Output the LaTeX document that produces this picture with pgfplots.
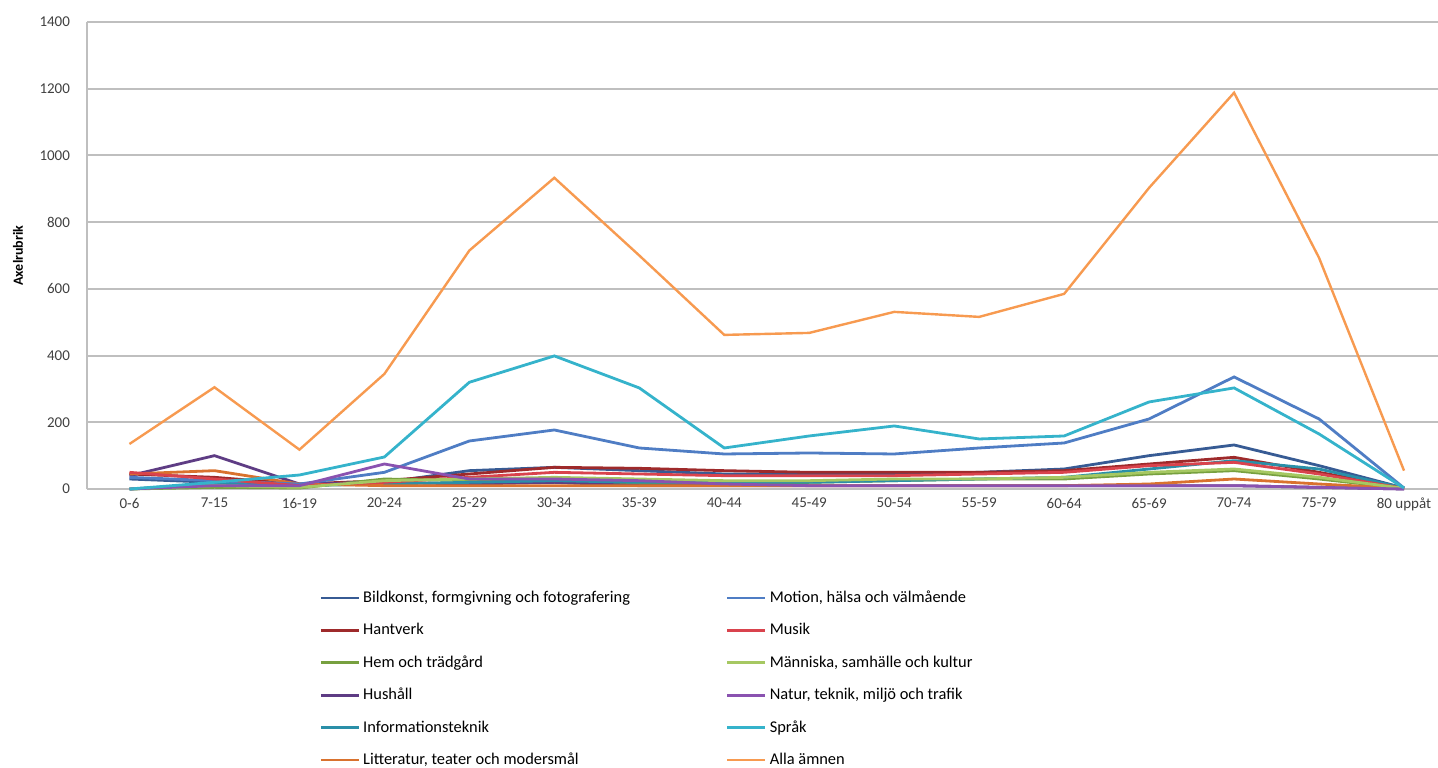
\documentclass[border=0pt]{standalone}
\usepackage{fontspec}
\setmainfont{Carlito}
\usepackage{pgfplots}
\pgfplotsset{compat=1.18}

\definecolor{cBild}{HTML}{375B94}
\definecolor{cHant}{HTML}{9E2A2B}
\definecolor{cHem}{HTML}{77A03F}
\definecolor{cHush}{HTML}{5E3C84}
\definecolor{cInfo}{HTML}{2A8FA8}
\definecolor{cLitt}{HTML}{D9722E}
\definecolor{cMot}{HTML}{4F7DC4}
\definecolor{cMus}{HTML}{D9434D}
\definecolor{cMann}{HTML}{A6C862}
\definecolor{cNat}{HTML}{8A52B0}
\definecolor{cSpr}{HTML}{35B3CB}
\definecolor{cAlla}{HTML}{F79A50}
\definecolor{gridgray}{HTML}{BFBFBF}
\definecolor{txtgray}{HTML}{404040}

\begin{document}
\begin{tikzpicture}
\begin{axis}[
    scale only axis,
    width=675.5pt, height=233.5pt,
    xmin=-0.5, xmax=15.4,
    ymin=0, ymax=1400,
    ytick={0,200,...,1400},
    xtick={0,...,15},
    xticklabels={0-6,7-15,16-19,20-24,25-29,30-34,35-39,40-44,45-49,50-54,55-59,60-64,65-69,70-74,75-79,80 uppåt},
    ymajorgrids=true,
    grid style={gridgray, line width=1pt},
    axis line style={gridgray, line width=0.8pt},
    axis x line*=bottom,
    axis y line*=left,
    major tick length=0pt,
    tick style={draw=none},
    /pgf/number format/assume math mode=true,
    /pgf/number format/1000 sep={},
    ticklabel style={font=\fontsize{7.5}{9}\selectfont, text=txtgray},
    yticklabel style={xshift=-5pt},
    xticklabel style={yshift=-1pt},
    ylabel={\textbf{Axelrubrik}},
    ylabel style={font=\fontsize{7}{8}\selectfont, at={(-34.5pt,116.75pt)}, anchor=center},
    every axis plot/.append style={line width=1.4pt, mark=none},
    legend columns=6,
    transpose legend,
    legend cell align=left,
    legend image code/.code={\draw[#1] (0pt,0pt) -- (19pt,0pt);},
    legend style={
        draw=none, fill=none, inner sep=0pt,
        at={(116pt,-49pt)}, anchor=north west,
        font=\fontsize{8.2}{9}\selectfont,
        nodes={inner sep=1.5pt, text height=6pt, text depth=1.5pt},
        row sep=5.7pt,
        /tikz/every even column/.append style={column sep=46.5pt},
    },
    clip=false,
]
\addplot[cBild] coordinates {(0,30)(1,20)(2,10)(3,20)(4,55)(5,65)(6,55)(7,45)(8,45)(9,45)(10,50)(11,60)(12,100)(13,132)(14,70)(15,3)};
\addlegendentry{Bildkonst, formgivning och fotografering}
\addplot[cHant] coordinates {(0,45)(1,35)(2,15)(3,25)(4,45)(5,65)(6,62)(7,55)(8,50)(9,50)(10,50)(11,55)(12,75)(13,95)(14,50)(15,3)};
\addlegendentry{Hantverk}
\addplot[cHem] coordinates {(0,0)(1,5)(2,3)(3,30)(4,25)(5,20)(6,15)(7,15)(8,20)(9,25)(10,30)(11,30)(12,45)(13,55)(14,30)(15,2)};
\addlegendentry{Hem och trädgård}
\addplot[cHush] coordinates {(0,40)(1,100)(2,15)(3,20)(4,15)(5,20)(6,10)(7,10)(8,10)(9,10)(10,10)(11,10)(12,10)(13,10)(14,5)(15,0)};
\addlegendentry{Hushåll}
\addplot[cInfo] coordinates {(0,0)(1,15)(2,10)(3,15)(4,20)(5,25)(6,20)(7,20)(8,20)(9,25)(10,30)(11,35)(12,60)(13,85)(14,60)(15,3)};
\addlegendentry{Informationsteknik}
\addplot[cLitt] coordinates {(0,45)(1,55)(2,15)(3,10)(4,10)(5,10)(6,10)(7,10)(8,10)(9,10)(10,10)(11,10)(12,15)(13,30)(14,15)(15,2)};
\addlegendentry{Litteratur, teater och modersmål}
\addplot[cMot] coordinates {(0,35)(1,25)(2,15)(3,50)(4,144)(5,177)(6,123)(7,105)(8,108)(9,105)(10,123)(11,138)(12,210)(13,336)(14,210)(15,3)};
\addlegendentry{Motion, hälsa och välmående}
\addplot[cMus] coordinates {(0,50)(1,30)(2,10)(3,20)(4,35)(5,50)(6,45)(7,40)(8,40)(9,40)(10,45)(11,50)(12,70)(13,80)(14,45)(15,2)};
\addlegendentry{Musik}
\addplot[cMann] coordinates {(0,0)(1,10)(2,5)(3,25)(4,30)(5,35)(6,30)(7,25)(8,25)(9,30)(10,30)(11,35)(12,50)(13,60)(14,35)(15,2)};
\addlegendentry{Människa, samhälle och kultur}
\addplot[cNat] coordinates {(0,0)(1,10)(2,10)(3,75)(4,30)(5,30)(6,25)(7,15)(8,10)(9,10)(10,10)(11,10)(12,10)(13,10)(14,5)(15,0)};
\addlegendentry{Natur, teknik, miljö och trafik}
\addplot[cSpr] coordinates {(0,0)(1,20)(2,42)(3,96)(4,320)(5,399)(6,303)(7,123)(8,159)(9,189)(10,150)(11,159)(12,261)(13,303)(14,165)(15,3)};
\addlegendentry{Språk}
\addplot[cAlla, line width=1.2pt] coordinates {(0,135)(1,305)(2,118)(3,345)(4,715)(5,933)(6,700)(7,462)(8,468)(9,531)(10,516)(11,585)(12,903)(13,1188)(14,693)(15,55)};
\addlegendentry{Alla ämnen}
\end{axis}
\pgfresetboundingbox
\useasboundingbox (-43.5pt,-139pt) rectangle (675.5pt,244.5pt);
\end{tikzpicture}
\end{document}
